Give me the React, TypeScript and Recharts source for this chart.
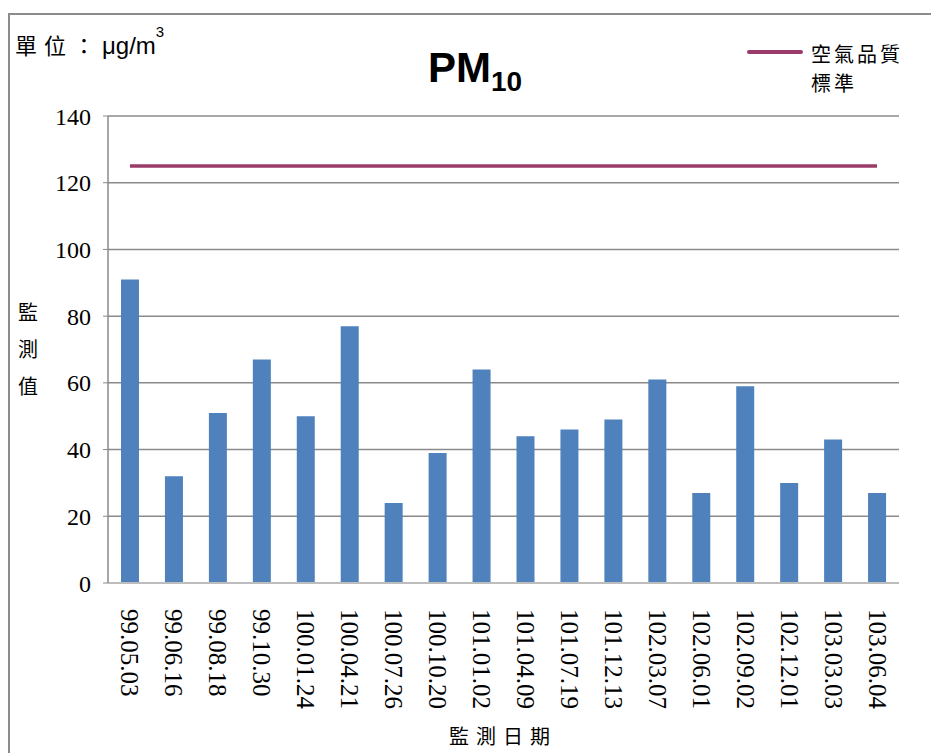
import React from "react";
import { ComposedChart, Bar, Line, XAxis, YAxis, CartesianGrid } from "recharts";

const dates = [
  "99.05.03", "99.06.16", "99.08.18", "99.10.30", "100.01.24", "100.04.21",
  "100.07.26", "100.10.20", "101.01.02", "101.04.09", "101.07.19", "101.12.13",
  "102.03.07", "102.06.01", "102.09.02", "102.12.01", "103.03.03", "103.06.04",
];
const pm10Values = [91, 32, 51, 67, 50, 77, 24, 39, 64, 44, 46, 49, 61, 27, 59, 30, 43, 27];
const standardValue = 125;
const yTicks = [0, 20, 40, 60, 80, 100, 120, 140];

const data = dates.map((d, i) => ({ date: d, value: pm10Values[i], standard: standardValue }));

const serif = "'Liberation Serif', 'Times New Roman', serif";
const cjk = "'Noto Sans CJK TC', 'Noto Sans CJK SC', sans-serif";
const sans = "'Liberation Sans', Arial, sans-serif";

const XTick = (props: any) => {
  const { x, y, payload } = props;
  return (
    <text
      transform={`translate(${x},${y + 18}) rotate(90)`}
      textAnchor="start"
      dominantBaseline="central"
      fontFamily={serif}
      fontSize={25}
      fill="#000"
    >
      {payload.value}
    </text>
  );
};

export default function App() {
  return (
    <div style={{ position: "relative", width: 931, height: 745, overflow: "hidden", background: "#fff" }}>
      <div
        style={{
          position: "absolute",
          left: 0,
          top: 5,
          width: 1200,
          height: 1200,
          borderLeft: "2px solid #8c8c8c",
          borderTop: "2px solid #8c8c8c",
          boxSizing: "border-box",
        }}
      />
      <ComposedChart
        width={931}
        height={745}
        data={data}
        margin={{ top: 108, right: 40, left: 0, bottom: 0 }}
        style={{ position: "absolute", left: 0, top: 0 }}
      >
        <CartesianGrid vertical={false} stroke="#8a8a8a" strokeWidth={1.5} />
        <XAxis
          dataKey="date"
          height={170}
          interval={0}
          tickLine={false}
          axisLine={{ stroke: "#bdbdbd", strokeWidth: 2 }}
          tick={<XTick />}
        />
        <YAxis
          width={100}
          domain={[0, 140]}
          ticks={yTicks}
          interval={0}
          tickSize={5}
          tickMargin={12}
          tickLine={{ stroke: "#8a8a8a" }}
          axisLine={{ stroke: "#8a8a8a", strokeWidth: 1.5 }}
          tick={{ fontFamily: serif, fontSize: 24, fill: "#000" }}
        />
        <Bar dataKey="value" fill="#4F81BD" barSize={18} isAnimationActive={false} />
        <Line
          dataKey="standard"
          stroke="#9B3B6A"
          strokeWidth={3.5}
          dot={false}
          activeDot={false}
          isAnimationActive={false}
        />
      </ComposedChart>

      <div style={{ position: "absolute", left: 7, top: 20, fontSize: 22, color: "#000", whiteSpace: "nowrap" }}>
        <span style={{ fontFamily: cjk, letterSpacing: 7 }}>單位：</span>
        <span style={{ fontFamily: sans, fontSize: 24 }}>
          μg/m<sup style={{ fontSize: 15, verticalAlign: "top", position: "relative", top: -5 }}>3</sup>
        </span>
      </div>

      <div
        style={{
          position: "absolute",
          left: 420,
          top: 36,
          fontFamily: sans,
          fontWeight: 700,
          fontSize: 42,
          color: "#000",
          whiteSpace: "nowrap",
        }}
      >
        PM<sub style={{ fontSize: 28, position: "relative", top: 9, verticalAlign: "baseline" }}>10</sub>
      </div>

      <div style={{ position: "absolute", left: 739, top: 42, width: 56, height: 4, background: "#9B3B6A", borderRadius: 2 }} />
      <div
        style={{
          position: "absolute",
          left: 803,
          top: 31,
          fontFamily: cjk,
          fontSize: 20,
          lineHeight: "29px",
          letterSpacing: 3,
          color: "#000",
        }}
      >
        空氣品質
        <br />
        標準
      </div>

      <div
        style={{
          position: "absolute",
          left: 10,
          top: 285,
          fontFamily: cjk,
          fontSize: 20,
          lineHeight: "37px",
          color: "#000",
          width: 22,
        }}
      >
        監<br />測<br />值
      </div>

      <div
        style={{
          position: "absolute",
          left: 441,
          top: 713,
          fontFamily: cjk,
          fontSize: 20,
          letterSpacing: 7,
          color: "#000",
          whiteSpace: "nowrap",
        }}
      >
        監測日期
      </div>
    </div>
  );
}
